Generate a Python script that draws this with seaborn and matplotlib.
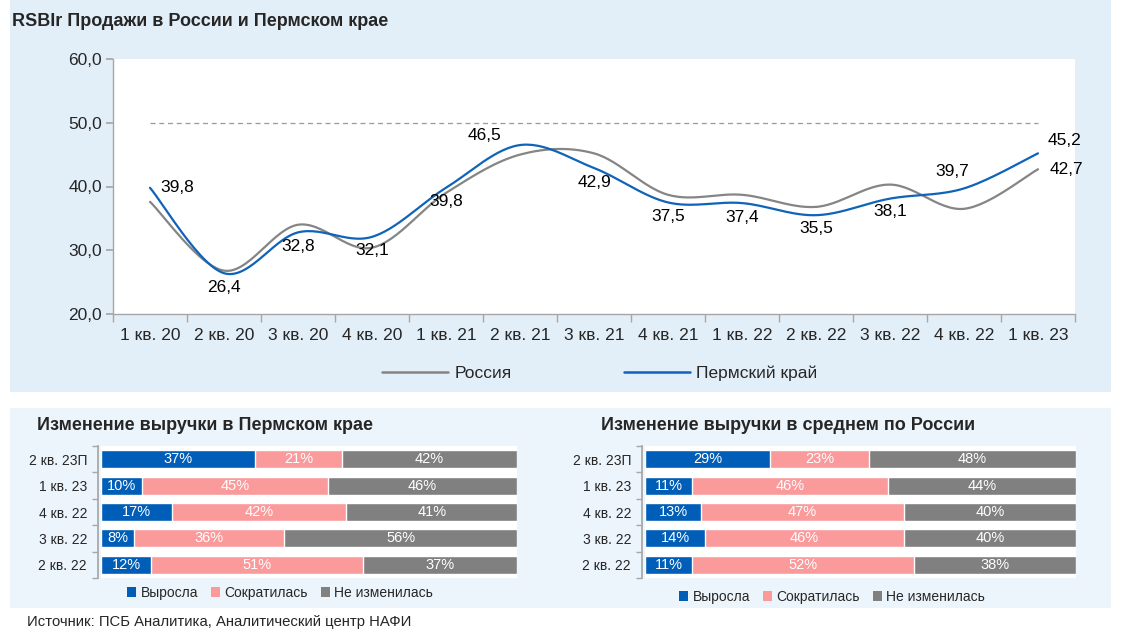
import numpy as np
import pandas as pd
import seaborn as sns
import matplotlib.pyplot as plt
from matplotlib.patches import Rectangle, Patch
from matplotlib.lines import Line2D
from matplotlib.ticker import FuncFormatter, FixedLocator

# --- data ---
quarters = ["1 кв. 20", "2 кв. 20", "3 кв. 20", "4 кв. 20", "1 кв. 21", "2 кв. 21", "3 кв. 21",
            "4 кв. 21", "1 кв. 22", "2 кв. 22", "3 кв. 22", "4 кв. 22", "1 кв. 23"]
russia = [37.6, 26.8, 34.0, 30.4, 39.0, 45.0, 45.2, 38.7, 38.7, 36.8, 40.3, 36.5, 42.7]
perm = [39.8, 26.4, 32.8, 32.1, 39.8, 46.5, 42.9, 37.5, 37.4, 35.5, 38.1, 39.7, 45.2]

bar_periods = ["2 кв. 23П", "1 кв. 23", "4 кв. 22", "3 кв. 22", "2 кв. 22"]
series_names = ["Выросла", "Сократилась", "Не изменилась"]
perm_grew = [37, 10, 17, 8, 12]
perm_fell = [21, 45, 42, 36, 51]
perm_same = [42, 46, 41, 56, 37]
rus_grew = [29, 11, 13, 14, 11]
rus_fell = [23, 46, 47, 46, 52]
rus_same = [48, 44, 40, 40, 38]

# --- style ---
BLUE_LINE = "#0F63B8"
GRAY_LINE = "#858585"
BAR_COLORS = ["#005EB8", "#FA9A9B", "#808080"]
AXIS_GRAY = "#A6A6A6"

# label offsets in pixels (dx, dy) for the Perm series
perm_offsets = [(27, 0), (0, -14), (0, -14), (0, -14), (0, -14), (-35, 10), (0, -14),
                (0, -14), (0, -14), (0, -13), (0, -13), (-12, 17), (26, 13)]
russia_last_offset = (28, 0)

sns.set_theme(style="white")
plt.rcParams["font.family"] = ["Liberation Sans", "DejaVu Sans"]

W, H = 1121, 633
fig = plt.figure(figsize=(W / 100, H / 100), dpi=100)
fig.patch.set_facecolor("white")


def px_box(x0, y0, x1, y1):
    # pixel box (top-left origin) -> figure fraction rect
    return [x0 / W, 1 - y1 / H, (x1 - x0) / W, (y1 - y0) / H]


def smooth(vals, n=30):
    # Catmull-Rom curve through the points, like a smoothed spreadsheet line
    x = np.arange(len(vals), dtype=float)
    y = np.asarray(vals, dtype=float)
    px = np.r_[x[0], x, x[-1]]
    py = np.r_[y[0], y, y[-1]]
    xs, ys = [], []
    t = np.linspace(0, 1, n, endpoint=False)
    for i in range(1, len(px) - 2):
        for P, out in ((px, xs), (py, ys)):
            p0, p1, p2, p3 = P[i - 1], P[i], P[i + 1], P[i + 2]
            out.extend(0.5 * (2 * p1 + (-p0 + p2) * t + (2 * p0 - 5 * p1 + 4 * p2 - p3) * t ** 2
                              + (-p0 + 3 * p1 - 3 * p2 + p3) * t ** 3))
    xs.append(x[-1])
    ys.append(y[-1])
    return np.array(xs), np.array(ys)


# background panels
fig.patches.append(Rectangle((10 / W, 1 - 392 / H), 1101 / W, 392 / H, transform=fig.transFigure,
                             facecolor="#E3EFF8", edgecolor="none", zorder=-10))
fig.patches.append(Rectangle((10 / W, 1 - 608 / H), 1101 / W, 200 / H, transform=fig.transFigure,
                             facecolor="#EDF5FC", edgecolor="none", zorder=-10))

# --- top line chart ---
ax = fig.add_axes(px_box(113, 59, 1075, 314))
ax.set_facecolor("white")
for vals, color in ((russia, GRAY_LINE), (perm, BLUE_LINE)):
    sx, sy = smooth(vals)
    sns.lineplot(x=sx, y=sy, ax=ax, color=color, lw=1.6, sort=False, estimator=None)
ax.hlines(50, 0, len(quarters) - 1, colors="#9A9A9A", lw=0.9, linestyles=(0, (4, 3)))

for i, (v, off) in enumerate(zip(perm, perm_offsets)):
    ax.annotate(f"{v:.1f}".replace(".", ","), (i, v), xytext=off, textcoords="offset pixels",
                ha="center", va="center", fontsize=12.5, color="black")
ax.annotate(f"{russia[-1]:.1f}".replace(".", ","), (len(russia) - 1, russia[-1]),
            xytext=russia_last_offset, textcoords="offset pixels",
            ha="center", va="center", fontsize=12.5, color="black")

ax.set_xlim(-0.5, len(quarters) - 0.5)
ax.set_ylim(20, 60)
ax.set_yticks([20, 30, 40, 50, 60])
ax.yaxis.set_major_formatter(FuncFormatter(lambda v, p: f"{v:.1f}".replace(".", ",")))
ax.set_xticks(range(len(quarters)))
ax.set_xticklabels(quarters)
ax.xaxis.set_minor_locator(FixedLocator(np.arange(-0.5, len(quarters), 1.0)))
ax.tick_params(axis="x", which="major", length=0, pad=10, labelsize=12.5)
ax.tick_params(axis="x", which="minor", length=6, color=AXIS_GRAY, direction="out")
ax.tick_params(axis="y", length=5, color=AXIS_GRAY, direction="out", pad=3, labelsize=12.5, left=True)
ax.tick_params(axis="x", bottom=True, which="both")
for s in ("top", "right"):
    ax.spines[s].set_visible(False)
for s in ("left", "bottom"):
    ax.spines[s].set_color(AXIS_GRAY)
    ax.spines[s].set_linewidth(1)
ax.set_xlabel("")
ax.set_ylabel("")

fig.text(12 / W, 1 - 21 / H, "RSBIr Продажи в России и Пермском крае", fontsize=13,
         fontweight="bold", ha="left", va="center")

line_handles = [Line2D([], [], color=GRAY_LINE, lw=1.8), Line2D([], [], color=BLUE_LINE, lw=1.8)]
fig.legend(line_handles, ["Россия", "Пермский край"], loc="center", ncol=2,
           bbox_to_anchor=(600 / W, 1 - 373 / H), frameon=False, fontsize=12.5,
           handlelength=3.8, handletextpad=0.35, columnspacing=6.5)


# --- bottom stacked bars ---
def stacked(box, grew, fell, same, title, title_x, legend_x, legend_y):
    bx = fig.add_axes(px_box(*box))
    bx.set_facecolor("white")
    df = pd.DataFrame({"period": bar_periods, series_names[0]: grew,
                       series_names[1]: fell, series_names[2]: same})
    total = df[series_names].sum(axis=1)
    shares = df[series_names].div(total, axis=0) * 100
    cum = shares.cumsum(axis=1)
    # draw from the longest cumulative bar down so each layer sits on the previous
    for name, color in zip(series_names[::-1], BAR_COLORS[::-1]):
        sns.barplot(x=cum[name], y=df["period"], ax=bx, orient="h", color=color,
                    width=0.68, saturation=1, order=bar_periods)
    for r in range(len(bar_periods)):
        left = 0
        for name in series_names:
            w = shares.loc[r, name]
            bx.text(left + w / 2, r, f"{df.loc[r, name]}%", ha="center", va="center",
                    color="white", fontsize=10.5)
            left += w
    bx.set_xlim(0, 100)
    bx.set_ylim(len(bar_periods) - 0.5, -0.5)
    bx.set_xticks([])
    bx.set_xlabel("")
    bx.set_ylabel("")
    bx.yaxis.set_minor_locator(FixedLocator(np.arange(-0.5, len(bar_periods), 1.0)))
    bx.tick_params(axis="y", which="major", length=0, pad=8, labelsize=10)
    bx.tick_params(axis="y", which="minor", length=4, color=AXIS_GRAY, direction="out", left=True)
    for s in ("top", "right", "bottom"):
        bx.spines[s].set_visible(False)
    bx.spines["left"].set_color(AXIS_GRAY)
    bx.spines["left"].set_position(("outward", 2))
    fig.text(title_x / W, 1 - 425 / H, title, fontsize=13, fontweight="bold",
             ha="left", va="center")
    handles = [Patch(facecolor=c, edgecolor="none") for c in BAR_COLORS]
    fig.legend(handles, series_names, loc="center", ncol=3,
               bbox_to_anchor=(legend_x / W, 1 - legend_y / H), frameon=False, fontsize=10,
               handlelength=0.7, handleheight=0.7, handletextpad=0.3, columnspacing=0.9)


stacked((101, 446, 517, 578), perm_grew, perm_fell, perm_same,
        "Изменение выручки в Пермском крае", 37, 280, 593)
stacked((645, 446, 1076, 578), rus_grew, rus_fell, rus_same,
        "Изменение выручки в среднем по России", 601, 832, 597)

fig.text(27 / W, 1 - 622 / H, "Источник: ПСБ Аналитика, Аналитический центр НАФИ",
         fontsize=10.7, ha="left", va="center")

fig.savefig("out.png", dpi=100)
